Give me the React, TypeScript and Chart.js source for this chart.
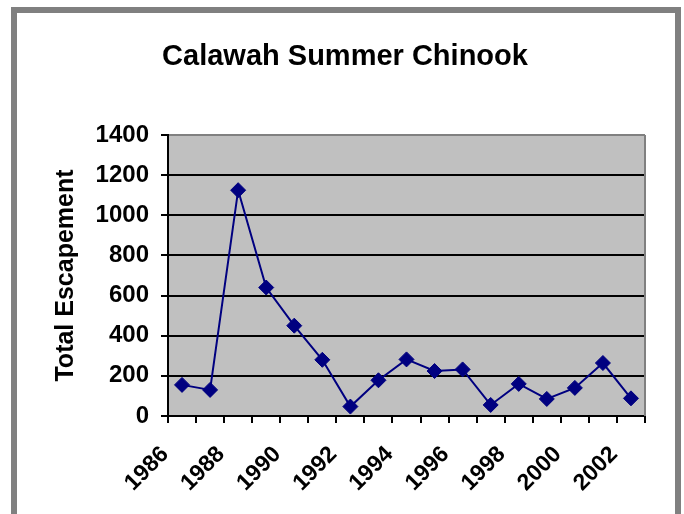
import React, { useEffect, useRef } from "react";
import { Chart, registerables } from "chart.js";

Chart.register(...registerables);

const chartTitle = "Calawah Summer Chinook";
const yAxisTitle = "Total Escapement";
const years = ["1986","1987","1988","1989","1990","1991","1992","1993","1994","1995","1996","1997","1998","1999","2000","2001","2002"];
const escapement = [155, 130, 1125, 640, 450, 280, 47, 178, 282, 224, 232, 55, 160, 85, 140, 264, 88];
const yTicks = [0, 200, 400, 600, 800, 1000, 1200, 1400];

const FONT = "'Liberation Sans', Arial, Helvetica, sans-serif";

const framePlugin = {
  id: "frame",
  beforeDraw(chart: any) {
    const { ctx, chartArea } = chart;
    ctx.save();
    ctx.fillStyle = "#ffffff";
    ctx.fillRect(0, 0, chart.width, chart.height);
    ctx.strokeStyle = "#808080";
    ctx.lineWidth = 6;
    ctx.strokeRect(14, 10, 664, 620);
    ctx.fillStyle = "#c0c0c0";
    ctx.fillRect(chartArea.left, chartArea.top, chartArea.right - chartArea.left, chartArea.bottom - chartArea.top);
    ctx.restore();
  },
  beforeDatasetsDraw(chart: any) {
    const { ctx, chartArea } = chart;
    ctx.save();
    ctx.strokeStyle = "#808080";
    ctx.lineWidth = 2;
    ctx.beginPath();
    ctx.moveTo(chartArea.right, chartArea.top);
    ctx.lineTo(chartArea.right, chartArea.bottom);
    ctx.stroke();
    ctx.restore();
  },
  afterDraw(chart: any) {
    const { ctx } = chart;
    ctx.save();
    ctx.fillStyle = "#000";
    ctx.font = `bold 29px ${FONT}`;
    ctx.textAlign = "center";
    ctx.textBaseline = "middle";
    ctx.fillText(chartTitle, 345, 57);
    ctx.restore();
  },
};

export default function App() {
  const ref = useRef<HTMLCanvasElement>(null);
  useEffect(() => {
    if (!ref.current) return;
    const chart = new Chart(ref.current, {
      type: "line",
      data: {
        labels: years,
        datasets: [
          {
            data: escapement,
            borderColor: "#000080",
            backgroundColor: "#000080",
            borderWidth: 2,
            pointStyle: "rectRot",
            pointRadius: 7.5,
            pointBorderWidth: 1,
            pointBorderColor: "#000080",
            pointBackgroundColor: "#000080",
            tension: 0,
          },
        ],
      },
      plugins: [framePlugin],
      options: {
        animation: false,
        responsive: false,
        devicePixelRatio: 1,
        layout: { padding: { left: 17, right: 39, top: 135, bottom: 0 } },
        plugins: {
          legend: { display: false },
          tooltip: { enabled: false },
          title: { display: false },
        },
        scales: {
          x: {
            type: "category",
            offset: true,
            afterFit: (s: any) => { s.height = 98; },
            grid: {
              display: true,
              drawOnChartArea: false,
              drawTicks: true,
              tickLength: 7,
              offset: true,
              color: "#000",
              lineWidth: 2,
            },
            border: { display: true, color: "#000", width: 2 },
            ticks: {
              autoSkip: false,
              minRotation: 45,
              maxRotation: 45,
              padding: 18,
              labelOffset: -17,
              color: "#000",
              font: { family: FONT, size: 23, weight: "bold" },
              callback: (_v: any, i: number) => (i % 2 === 0 ? years[i] : ""),
            },
          },
          y: {
            min: 0,
            max: 1400,
            afterFit: (s: any) => { s.width = 151; },
            afterBuildTicks: (s: any) => { s.ticks = yTicks.map((v) => ({ value: v })); },
            grid: {
              color: (c: any) => (c.tick && c.tick.value === 1400 ? "#808080" : "#000"),
              lineWidth: 2,
              drawTicks: true,
              tickLength: 7,
              tickColor: "#000",
            },
            border: { display: true, color: "#000", width: 2 },
            ticks: {
              padding: 12,
              color: "#000",
              font: { family: FONT, size: 24, weight: "bold" },
              callback: (v: any) => String(v),
            },
            title: {
              display: true,
              text: yAxisTitle,
              color: "#000",
              font: { family: FONT, size: 25, weight: "bold" },
              padding: { top: 34, bottom: 0 },
            },
          },
        },
      },
    });
    return () => chart.destroy();
  }, []);
  return (
    <canvas
      ref={ref}
      width={684}
      height={514}
      style={{ position: "fixed", left: 0, top: 0, width: 684, height: 514 }}
    />
  );
}
